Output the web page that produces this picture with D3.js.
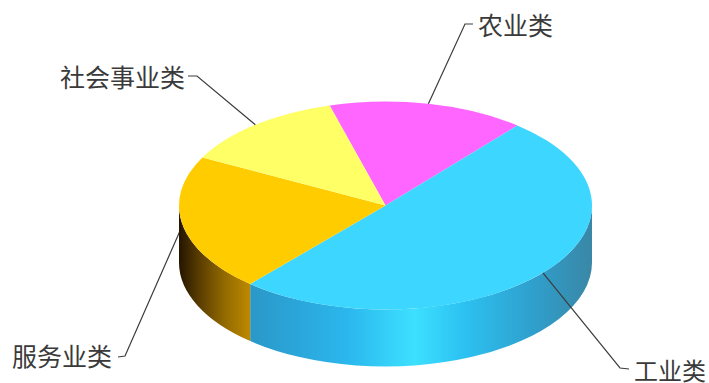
<!DOCTYPE html>
<html lang="zh">
<head>
<meta charset="utf-8">
<style>
  html, body { margin: 0; padding: 0; background: #fff; }
  svg { display: block; }
  text { font-family: "Noto Sans CJK SC", "Noto Sans", sans-serif; fill: #3a3a3a; dominant-baseline: central; }
</style>
</head>
<body>
<svg id="chart" width="709" height="383"></svg>
<script src="https://cdn.jsdelivr.net/npm/d3@7"></script>
<script>
// Employment share by sector, in percent
const categories = ["农业类", "工业类", "服务业类", "社会事业类"];
const shares = [15.4, 50.4, 21.3, 13.0];
const topColors = ["#ff66ff", "#3dd6ff", "#ffcc00", "#ffff66"];

// Side wall shading, left to right across the disc
const wallStops = {
  "工业类": [[0, "#2a98c8"], [0.14, "#2ba6da"], [0.29, "#2bb8ee"], [0.48, "#3de0ff"], [0.62, "#2cc2f2"], [0.83, "#2f9fcc"], [1, "#3a87a6"]],
  "服务业类": [[0, "#241500"], [0.3, "#5c3f00"], [0.65, "#946b00"], [1, "#bd8900"]]
};

// Where each label and its leader elbow sit
const labelLayout = {
  "农业类": { elbow: [465, 24], end: [473, 24], text: [478, 24], anchor: "start", size: 25 },
  "工业类": { elbow: [620, 368], end: [629, 369], text: [634, 369], anchor: "start", size: 24 },
  "服务业类": { elbow: [125, 356], end: [118, 357], text: [112, 355], anchor: "end", size: 25 },
  "社会事业类": { elbow: [197, 76], end: [188, 76], text: [185, 76], anchor: "end", size: 25 }
};

const cx = 385.5, cy = 205.5, rx = 206.5, ry = 104, depth = 57;
const startAngle = -15.7 * Math.PI / 180;

const svg = d3.select("#chart");
const defs = svg.append("defs");

const slices = d3.pie().sort(null)
  .startAngle(startAngle)
  .endAngle(startAngle + 2 * Math.PI)(shares)
  .map((d, i) => ({ ...d, name: categories[i], color: topColors[i] }));

// Angles run clockwise from twelve o'clock, as in d3.arc
const rimPoint = a => [cx + rx * Math.sin(a), cy - ry * Math.cos(a)];

function wallPath(a0, a1) {
  const [x0, y0] = rimPoint(a0), [x1, y1] = rimPoint(a1);
  return `M${x0},${y0}A${rx},${ry} 0 0 1 ${x1},${y1}` +
         `L${x1},${y1 + depth}A${rx},${ry} 0 0 0 ${x0},${y0 + depth}Z`;
}

// Keep only the part of a slice that faces the viewer
function frontSpan(d) {
  const TAU = 2 * Math.PI;
  const lo = Math.PI / 2, hi = 3 * Math.PI / 2;
  let a0 = d.startAngle, a1 = d.endAngle;
  while (a0 < 0) { a0 += TAU; a1 += TAU; }
  const s = Math.max(a0, lo), e = Math.min(a1, hi);
  return s < e ? [s, e] : null;
}

const leadersUnder = svg.append("g");

const walls = svg.append("g");
slices.forEach((d, i) => {
  const span = frontSpan(d);
  if (!span) return;
  const [x0, x1] = [rimPoint(span[0])[0], rimPoint(span[1])[0]].sort(d3.ascending);
  const id = `wall-${i}`;
  const grad = defs.append("linearGradient").attr("id", id)
    .attr("gradientUnits", "userSpaceOnUse")
    .attr("x1", x0).attr("x2", x1).attr("y1", 0).attr("y2", 0);
  grad.selectAll("stop").data(wallStops[d.name]).join("stop")
    .attr("offset", s => s[0]).attr("stop-color", s => s[1]);
  walls.append("path").attr("d", wallPath(span[0], span[1])).attr("fill", `url(#${id})`);
});

function leader(d) {
  const layout = labelLayout[d.name];
  const mid = (d.startAngle + d.endAngle) / 2;
  return d3.line()([rimPoint(mid), layout.elbow, layout.end]);
}

// Top face: a pie squashed into an ellipse
const face = svg.append("g").attr("transform", `translate(${cx},${cy}) scale(1,${ry / rx})`);
const arc = d3.arc().innerRadius(0).outerRadius(rx);
face.selectAll("path").data(slices).join("path")
  .attr("d", arc)
  .attr("fill", d => d.color);

// The service-sector leader passes behind the disc; the others sit on top of it
const leadersOver = svg.append("g");
slices.forEach(d => {
  const layer = d.name === "服务业类" ? leadersUnder : leadersOver;
  layer.append("path").attr("d", leader(d))
    .attr("fill", "none").attr("stroke", "#3c3c3c").attr("stroke-width", 1.2);
});

svg.append("g").selectAll("text").data(slices).join("text")
  .attr("x", d => labelLayout[d.name].text[0])
  .attr("y", d => labelLayout[d.name].text[1])
  .attr("text-anchor", d => labelLayout[d.name].anchor)
  .attr("font-size", d => labelLayout[d.name].size)
  .text(d => d.name);
</script>
</body>
</html>
